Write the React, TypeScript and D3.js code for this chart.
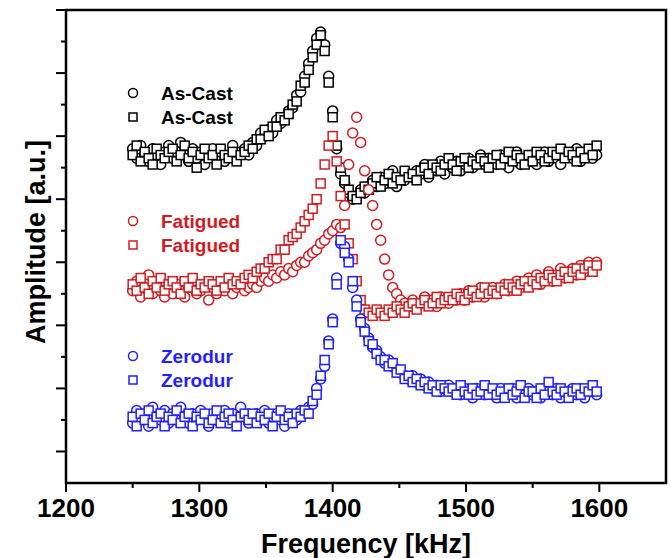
import React, { useEffect, useRef } from 'react';
import * as d3 from 'd3';

// frequency sweep, 3 kHz steps from 1250 to 1598 kHz
const freqs = d3.range(1250, 1601, 3);

const asCastCircle = [
  106, 103, 107, 104, 102, 106, 104, 101, 105, 107,
  103, 105, 108, 104, 102, 106, 103, 105, 101, 104,
  106, 103, 105, 102, 104, 107, 103, 105, 106, 104,
  108, 107, 111, 110, 112, 111, 115, 114, 116, 118,
  119, 123, 124, 129, 133, 137, 141, 143, 139, 129,
  118, 106, 98, 95, 92, 90, 91, 93, 92, 94,
  96, 94, 97, 95, 96, 99, 94, 97, 96, 98,
  97, 99, 98, 101, 97, 100, 99, 102, 98, 101,
  100, 102, 99, 101, 103, 100, 102, 104, 101, 103,
  102, 101, 104, 102, 100, 103, 105, 101, 103, 102,
  104, 101, 103, 105, 102, 104, 103, 101, 105, 104,
  103, 106, 102, 104, 105, 103, 104,
];
const asCastSquare = [
  104, 107, 102, 105, 103, 101, 106, 104, 103, 105,
  106, 102, 104, 107, 103, 105, 100, 104, 106, 103,
  104, 101, 106, 104, 103, 105, 102, 104, 105, 107,
  106, 109, 109, 112, 110, 113, 113, 116, 115, 117,
  120, 121, 126, 127, 131, 135, 139, 142, 137, 127,
  116, 107, 100, 96, 93, 91, 90, 92, 94, 93,
  95, 97, 94, 96, 98, 95, 97, 96, 99, 97,
  98, 96, 99, 100, 98, 101, 100, 99, 101, 103,
  101, 99, 102, 103, 100, 102, 101, 103, 102, 100,
  103, 104, 101, 103, 105, 102, 104, 103, 101, 104,
  102, 105, 104, 102, 103, 105, 104, 106, 103, 105,
  104, 102, 105, 103, 106, 104, 107,
];
const fatiguedCircle = [
  61, 64, 59, 62, 66, 60, 63, 61, 59, 62,
  60, 63, 61, 59, 62, 64, 60, 61, 63, 58,
  62, 60, 63, 61, 64, 60, 62, 63, 61, 62,
  63, 62, 64, 65, 64, 66, 65, 67, 66, 68,
  67, 69, 70, 70, 72, 73, 74, 76, 77, 79,
  80, 82, 81, 88, 101, 111, 116, 108, 99, 93,
  88, 82, 77, 71, 66, 62, 60, 58, 57, 56,
  58, 56, 57, 59, 57, 58, 56, 59, 58, 57,
  59, 58, 60, 58, 61, 59, 60, 62, 59, 61,
  62, 60, 61, 63, 61, 62, 64, 62, 63, 65,
  64, 66, 63, 65, 67, 64, 66, 68, 65, 67,
  68, 66, 69, 67, 70, 68, 70,
];
const fatiguedSquare = [
  63, 61, 65, 62, 60, 64, 62, 65, 61, 63,
  64, 62, 60, 64, 62, 65, 61, 63, 62, 64,
  63, 61, 64, 62, 65, 63, 64, 63, 65, 66,
  65, 67, 68, 68, 70, 71, 71, 74, 74, 77,
  78, 79, 81, 83, 85, 87, 90, 95, 101, 107,
  110, 102, 91, 82, 76, 71, 64, 58, 55, 54,
  53, 55, 54, 53, 55, 54, 56, 55, 54, 56,
  57, 55, 57, 58, 56, 57, 59, 57, 58, 59,
  58, 60, 59, 58, 60, 61, 59, 60, 62, 60,
  61, 60, 62, 61, 63, 62, 61, 63, 64, 62,
  64, 63, 65, 64, 66, 65, 64, 66, 67, 65,
  67, 68, 66, 68, 69, 67, 69,
];
const zerodurCircle = [
  19, 23, 20, 22, 18, 24, 21, 20, 23, 19,
  22, 20, 24, 21, 19, 22, 20, 23, 21, 18,
  22, 20, 21, 23, 19, 22, 20, 24, 21, 19,
  21, 22, 20, 23, 19, 21, 22, 20, 18, 22,
  21, 20, 23, 22, 24, 25, 30, 33, 37, 45,
  52, 65, 76, 75, 71, 62, 58, 52, 49, 46,
  43, 42, 40, 38, 39, 37, 36, 35, 34, 33,
  34, 32, 33, 31, 32, 30, 31, 29, 30, 31,
  29, 30, 28, 30, 29, 27, 30, 29, 28, 30,
  29, 27, 30, 28, 29, 30, 27, 29, 28, 30,
  28, 29, 27, 30, 29, 28, 30, 27, 29, 28,
  30, 28, 29, 27, 30, 29, 28,
];
const zerodurSquare = [
  21, 18, 22, 20, 23, 19, 21, 22, 18, 21,
  20, 23, 19, 21, 22, 18, 21, 20, 22, 19,
  20, 23, 19, 21, 22, 20, 18, 21, 22, 20,
  22, 19, 21, 20, 22, 18, 21, 23, 20, 21,
  19, 22, 21, 23, 22, 26, 28, 34, 39, 44,
  51, 63, 77, 73, 70, 64, 56, 51, 48, 45,
  44, 41, 39, 39, 37, 38, 35, 36, 33, 34,
  32, 33, 31, 32, 30, 31, 29, 31, 30, 29,
  30, 28, 31, 29, 28, 30, 28, 29, 31, 28,
  30, 28, 29, 27, 30, 28, 29, 31, 27, 29,
  29, 27, 30, 28, 32, 29, 28, 30, 29, 27,
  29, 30, 28, 30, 29, 31, 29,
];

const xTickLabels = [1200, 1300, 1400, 1500, 1600];

const series = [
  { name: 'As-Cast', shape: 'circle', color: '#000000', values: asCastCircle },
  { name: 'As-Cast', shape: 'square', color: '#000000', values: asCastSquare },
  { name: 'Fatigued', shape: 'circle', color: '#d01c1f', values: fatiguedCircle },
  { name: 'Fatigued', shape: 'square', color: '#d01c1f', values: fatiguedSquare },
  { name: 'Zerodur', shape: 'circle', color: '#1f1fff', values: zerodurCircle },
  { name: 'Zerodur', shape: 'square', color: '#1f1fff', values: zerodurSquare },
];

const legendY = [93, 117, 221, 245, 356, 380];

const App = () => {
  const svgRef = useRef<SVGSVGElement>(null);

  useEffect(() => {
    const svg = d3.select(svgRef.current);
    svg.selectAll('*').remove();

    const width = 670;
    const height = 558;
    const margin = { top: 10, right: 4, bottom: 75, left: 66 };
    const font = '"Liberation Sans", Arial, sans-serif';

    svg.attr('width', width).attr('height', height);

    const x = d3.scaleLinear()
      .domain([1200, 1650])
      .range([margin.left, width - margin.right]);
    const y = d3.scaleLinear()
      .domain([0, 150])
      .range([height - margin.bottom, margin.top]);

    // data
    series.forEach(s => {
      const g = svg.append('g');
      const pts = s.values.map((v, i) => ({ f: freqs[i], v }));
      if (s.shape === 'circle') {
        g.selectAll('circle').data(pts).enter().append('circle')
          .attr('cx', d => x(d.f))
          .attr('cy', d => y(d.v))
          .attr('r', 5)
          .attr('fill', 'white')
          .attr('stroke', s.color)
          .attr('stroke-width', 1.5);
      } else {
        g.selectAll('rect').data(pts).enter().append('rect')
          .attr('x', d => x(d.f) - 4.5)
          .attr('y', d => y(d.v) - 4.5)
          .attr('width', 9)
          .attr('height', 9)
          .attr('fill', 'white')
          .attr('stroke', s.color)
          .attr('stroke-width', 1.5);
      }
    });

    // frame
    svg.append('rect')
      .attr('x', x(1200)).attr('y', y(150))
      .attr('width', x(1650) - x(1200)).attr('height', y(0) - y(150))
      .attr('fill', 'none').attr('stroke', '#000').attr('stroke-width', 2.5);

    // x axis ticks
    const xMinor = [1250, 1350, 1450, 1550];
    const xAxis = svg.append('g');
    xAxis.selectAll('.maj').data(xTickLabels).enter().append('line')
      .attr('x1', d => x(d)).attr('x2', d => x(d))
      .attr('y1', y(0)).attr('y2', y(0) + 9)
      .attr('stroke', '#000').attr('stroke-width', 2);
    xAxis.selectAll('.min').data(xMinor).enter().append('line')
      .attr('x1', d => x(d)).attr('x2', d => x(d))
      .attr('y1', y(0)).attr('y2', y(0) + 5)
      .attr('stroke', '#000').attr('stroke-width', 2);
    xAxis.selectAll('text').data(xTickLabels).enter().append('text')
      .attr('x', d => x(d))
      .attr('y', y(0) + 34)
      .attr('text-anchor', 'middle')
      .style('font-family', font)
      .attr('font-size', 26)
      .attr('font-weight', 'bold')
      .text(d => d);

    // y axis ticks (no labels)
    const yTicks = d3.range(10, 151, 10);
    svg.append('g').selectAll('line').data(yTicks).enter().append('line')
      .attr('x1', d => x(1200) - ((d / 10) % 2 === 1 ? 10 : 5))
      .attr('x2', x(1200))
      .attr('y1', d => y(d)).attr('y2', d => y(d))
      .attr('stroke', '#000').attr('stroke-width', 2);

    // axis titles
    svg.append('text')
      .attr('x', (x(1200) + x(1650)) / 2)
      .attr('y', 553)
      .attr('text-anchor', 'middle')
      .style('font-family', font)
      .attr('font-size', 27)
      .attr('font-weight', 'bold')
      .text('Frequency [kHz]');
    svg.append('text')
      .attr('transform', 'translate(45,242) rotate(-90)')
      .attr('text-anchor', 'middle')
      .style('font-family', font)
      .attr('font-size', 27)
      .attr('font-weight', 'bold')
      .text('Amplitude [a.u.]');

    // legend
    const legend = svg.append('g');
    series.forEach((s, i) => {
      const ly = legendY[i];
      if (s.shape === 'circle') {
        legend.append('circle')
          .attr('cx', 133).attr('cy', ly).attr('r', 4.5)
          .attr('fill', 'white').attr('stroke', s.color).attr('stroke-width', 1.5);
      } else {
        legend.append('rect')
          .attr('x', 129).attr('y', ly - 4).attr('width', 8).attr('height', 8)
          .attr('fill', 'white').attr('stroke', s.color).attr('stroke-width', 1.5);
      }
      legend.append('text')
        .attr('x', 161).attr('y', ly + 7)
        .style('font-family', font)
        .attr('font-size', 19)
        .attr('font-weight', 'bold')
        .attr('fill', s.color)
        .text(s.name);
    });
  }, []);

  return <svg ref={svgRef} style={{ position: 'absolute', left: 0, top: 0 }}></svg>;
};

export default App;
